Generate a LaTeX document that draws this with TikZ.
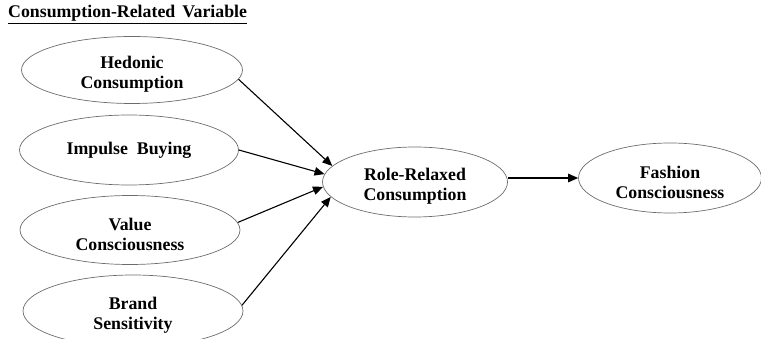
\documentclass[tikz,border=0pt]{standalone}
\usepackage{fontspec}
\setmainfont{Liberation Serif}
\usetikzlibrary{shapes.geometric,arrows.meta}
\newcommand\mytopstrut{\rule{0pt}{20.5pt}}
\begin{document}
\begin{tikzpicture}[x=1pt,y=-1pt,
  var/.style={ellipse, draw=gray!85!black, line width=0.7pt, inner sep=0pt, align=center,
    font=\fontsize{17.8}{20}\selectfont\bfseries},
  link/.style={-{Triangle[length=10pt,width=8.5pt]}, line width=1.1pt}]
\useasboundingbox (0,0) rectangle (761,339);
\node[anchor=base west, inner sep=0pt, font=\fontsize{17.8}{20}\selectfont\bfseries] (title) at (8,18) {\underline{Consumption-Related\hspace{0.4em}Variable}};
\node[var, minimum width=221pt, minimum height=67pt] (hed) at (132,70) {\mytopstrut Hedonic\\Consumption};
\node[var, minimum width=219pt, minimum height=70pt] (imp) at (129,150) {Impulse\ \ Buying};
\node[var, minimum width=220pt, minimum height=69pt] (val) at (130,230) {\mytopstrut Value\\Consciousness};
\node[var, minimum width=220pt, minimum height=72pt] (brand) at (133,311) {\mytopstrut Brand\\Sensitivity};
\node[var, minimum width=185pt, minimum height=70pt] (role) at (415,182) {\mytopstrut Role-Relaxed\\Consumption};
\node[var, minimum width=183pt, minimum height=70pt] (fash) at (670,178) {\mytopstrut Fashion\\Consciousness};
\draw[link] (hed.-5) -- (role.169);
\draw[link] (imp.0) -- (role.175);
\draw[link] (val.4) -- (role.183);
\draw[link] (brand.3) -- (role.190);
\draw[link] (role.east |- fash.west) -- (fash.west);
\end{tikzpicture}
\end{document}
